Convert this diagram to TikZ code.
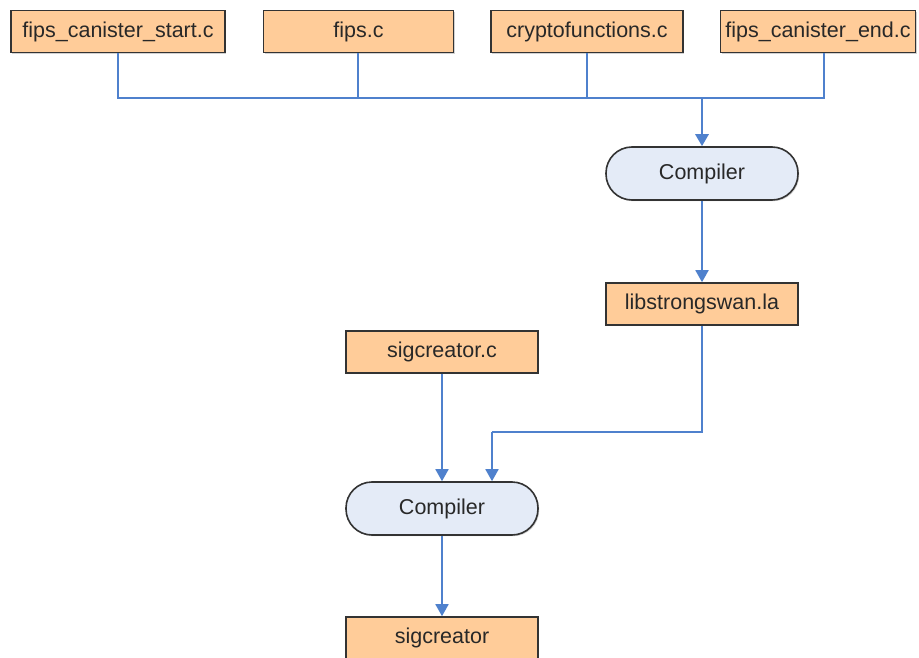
\documentclass[tikz,border=0pt]{standalone}
\usepackage{fontspec}
\setmainfont{Liberation Sans}
\usetikzlibrary{arrows.meta,shadows}
\definecolor{boxfill}{RGB}{255,204,153}
\definecolor{compfill}{RGB}{228,235,247}
\definecolor{linkblue}{RGB}{79,129,205}
\definecolor{txt}{RGB}{40,40,40}
\begin{document}
\begin{tikzpicture}[x=1pt,y=-1pt,
  every node/.style={font=\fontsize{21.5}{25}\selectfont, text=txt},
  filebox/.style={draw=black!80, line width=1.6pt, fill=boxfill, minimum height=42pt, inner sep=0pt,
     drop shadow={shadow xshift=1.2pt, shadow yshift=-1.2pt, opacity=0.35}},
  compbox/.style={draw=black!80, line width=1.6pt, fill=compfill, rounded corners=26pt, minimum width=192pt, minimum height=53pt, inner sep=0pt,
     drop shadow={shadow xshift=1.2pt, shadow yshift=-1.2pt, opacity=0.35}},
  link/.style={draw=linkblue, line width=1.8pt},
  arr/.style={link, -{Triangle[width=13pt,length=12pt]}},
  thickarr/.style={draw=linkblue, line width=2.8pt, -{Triangle[width=13pt,length=12pt]}}]
\useasboundingbox (0,0) rectangle (919,658);
\fill[white] (0,0) rectangle (919,658);

\node[filebox, minimum width=214pt] (b1) at (118,31.5) {fips\_canister\_start.c};
\node[filebox, minimum width=190pt] (b2) at (358.5,31.5) {fips.c};
\node[filebox, minimum width=192pt] (b3) at (587,31.5) {cryptofunctions.c};
\node[filebox, minimum width=195pt] (b4) at (818,31.5) {fips\_canister\_end.c};

\node[compbox] (c1) at (702,173.5) {Compiler};
\node[filebox, minimum width=192pt] (lib) at (702,304) {libstrongswan.la};
\node[filebox, minimum width=192pt] (sc) at (442,352) {sigcreator.c};
\node[compbox] (c2) at (442,508.5) {Compiler};
\node[filebox, minimum width=192pt] (sig) at (442,638) {sigcreator};

\coordinate (j1) at (118,98);
\coordinate (j4) at (824,98);
\coordinate (jc) at (702,98);
\coordinate (l1) at (702,432);
\coordinate (l2) at (492,432);

\draw[link] (b1.south) -- (j1) -- (j4) -- ([xshift=6pt]b4.south);
\draw[link] ([xshift=-0.5pt]b2.south) -- ([xshift=-0.5pt]b2.south |- j1);
\draw[link] (b3.south) -- (b3.south |- j1);
\draw[thickarr] (jc) -- (c1.north);
\draw[arr] (c1.south) -- (lib.north);
\draw[link] (lib.south) -- (l1) -- (l2);
\draw[arr] (l2) -- (l2 |- c2.north);
\draw[arr] (sc.south) -- (c2.north);
\draw[arr] (c2.south) -- (sig.north);
\end{tikzpicture}
\end{document}
